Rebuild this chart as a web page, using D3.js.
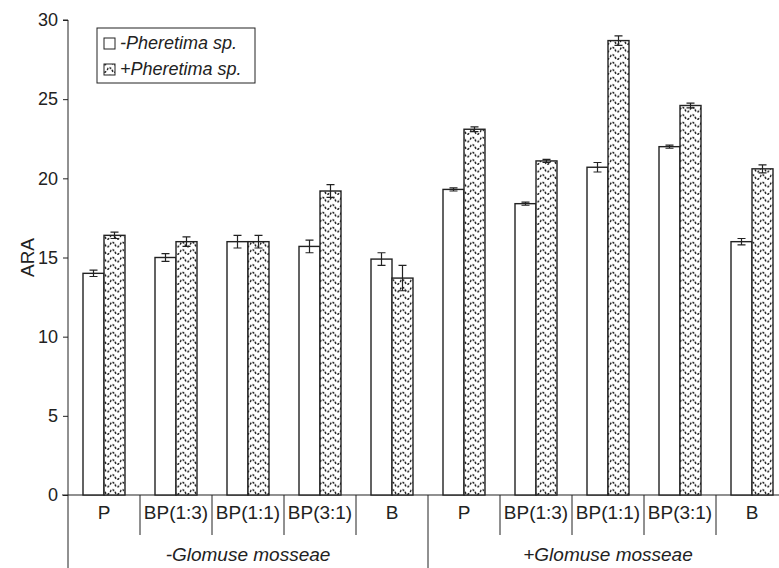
<!DOCTYPE html>
<html>
<head>
<meta charset="utf-8">
<script src="https://cdnjs.cloudflare.com/ajax/libs/d3/7.8.5/d3.min.js"></script>
<style>
body { margin: 0; background: #fff; }
svg { font-family: "Liberation Sans", Arial, sans-serif; }
.tick text { font-size: 18px; fill: #222; font-family: "Liberation Sans", Arial, sans-serif; }
.lab { font-size: 19px; fill: #222; text-anchor: middle; }
.grp { font-size: 19px; fill: #222; text-anchor: middle; font-style: italic; }
</style>
</head>
<body>
<svg width="779" height="568"></svg>
<script>
var groups = ["-Glomuse mosseae", "+Glomuse mosseae"];
var treatments = ["P", "BP(1:3)", "BP(1:1)", "BP(3:1)", "B"];
var seriesNames = ["-Pheretima sp.", "+Pheretima sp."];
// values, -G then +G, treatments in order
var minusWorm = [14.0, 15.0, 16.0, 15.7, 14.9, 19.3, 18.4, 20.7, 22.0, 16.0];
var minusWormErr = [0.2, 0.25, 0.4, 0.4, 0.4, 0.1, 0.1, 0.3, 0.1, 0.2];
var plusWorm = [16.4, 16.0, 16.0, 19.2, 13.7, 23.1, 21.1, 28.7, 24.6, 20.6];
var plusWormErr = [0.2, 0.3, 0.4, 0.4, 0.8, 0.15, 0.1, 0.3, 0.15, 0.25];
var yTicks = [0, 5, 10, 15, 20, 25, 30];

var svg = d3.select("svg");
var pLeft = 68, pRight = 788, pTop = 20, pBottom = 495;

var cats = [];
groups.forEach(function (g, gi) {
  treatments.forEach(function (t, ti) { cats.push(gi * 5 + ti); });
});

var x = d3.scaleBand().domain(cats).range([pLeft, pRight]);
var y = d3.scaleLinear().domain([0, 30]).range([pBottom, pTop]);
var barW = 21;

// wavy fill pattern
var defs = svg.append("defs");
var pat = defs.append("pattern")
  .attr("id", "wave")
  .attr("patternUnits", "userSpaceOnUse")
  .attr("width", 10).attr("height", 7.5);
pat.append("rect").attr("width", 10).attr("height", 7.5).attr("fill", "#fff");
pat.append("path")
  .attr("d", "M0,4.5 Q2.5,0 5,4.5 T10,4.5")
  .attr("fill", "none")
  .attr("stroke", "#111")
  .attr("stroke-width", 1.4)
  .attr("stroke-dasharray", "2.2,1.2");

// y axis
var ya = svg.append("g")
  .attr("transform", "translate(" + pLeft + ",0)")
  .call(d3.axisLeft(y).tickValues(yTicks).tickSize(5).tickPadding(5));
ya.select(".domain").attr("stroke", "#222").attr("d", "M-5," + pTop + "H0V" + 568);
ya.selectAll(".tick line").attr("stroke", "#222");

svg.append("text")
  .attr("class", "lab")
  .attr("font-size", 18)
  .attr("transform", "translate(34," + y(15) + ") rotate(-90)")
  .text("ARA");

// x axis baseline
svg.append("line")
  .attr("x1", pLeft - 6).attr("x2", pRight)
  .attr("y1", pBottom).attr("y2", pBottom)
  .attr("stroke", "#222").attr("stroke-width", 1.2);

// category separators
cats.forEach(function (c) {
  if (c === 0) return;
  svg.append("line")
    .attr("x1", x(c)).attr("x2", x(c))
    .attr("y1", pBottom).attr("y2", c === 5 ? 568 : 535)
    .attr("stroke", "#222").attr("stroke-width", 1);
});

// category labels
svg.selectAll(".catlab").data(cats).enter().append("text")
  .attr("class", "lab")
  .attr("x", function (c) { return x(c) + x.bandwidth() / 2; })
  .attr("y", 519)
  .text(function (c) { return treatments[c % 5]; });

// group labels
svg.selectAll(".grplab").data(groups).enter().append("text")
  .attr("class", "grp")
  .attr("x", function (g, i) { return x(i * 5) + x.bandwidth() * 2.5; })
  .attr("y", 561)
  .text(function (g) { return g; });

// bars + error bars
function drawSeries(vals, errs, off, fill) {
  var gs = svg.append("g");
  gs.selectAll("rect").data(vals).enter().append("rect")
    .attr("x", function (d, i) { return x(cats[i]) + x.bandwidth() / 2 + off; })
    .attr("y", function (d) { return y(d); })
    .attr("width", barW)
    .attr("height", function (d) { return pBottom - y(d); })
    .attr("fill", fill)
    .attr("stroke", "#222").attr("stroke-width", 1.4);
  vals.forEach(function (d, i) {
    var cx = x(cats[i]) + x.bandwidth() / 2 + off + barW / 2;
    var y1 = y(d + errs[i]), y2 = y(d - errs[i]);
    gs.append("path")
      .attr("d", "M" + (cx - 4) + "," + y1 + "H" + (cx + 4) + "M" + cx + "," + y1 + "V" + y2 + "M" + (cx - 4) + "," + y2 + "H" + (cx + 4))
      .attr("stroke", "#222").attr("stroke-width", 1.2).attr("fill", "none");
  });
}
drawSeries(minusWorm, minusWormErr, -barW, "#fff");
drawSeries(plusWorm, plusWormErr, 0, "url(#wave)");

// legend
var lg = svg.append("g").attr("transform", "translate(97,28)");
lg.append("rect").attr("width", 158).attr("height", 55)
  .attr("fill", "#fff").attr("stroke", "#222").attr("stroke-width", 1);
seriesNames.forEach(function (s, i) {
  lg.append("rect")
    .attr("x", 7).attr("y", 10 + i * 26)
    .attr("width", 11).attr("height", 11)
    .attr("fill", i === 0 ? "#fff" : "url(#wave)")
    .attr("stroke", "#222").attr("stroke-width", 1);
  lg.append("text")
    .attr("x", 23).attr("y", 21 + i * 26)
    .attr("font-size", 18).attr("font-style", "italic").attr("fill", "#222")
    .text(s);
});
</script>
</body>
</html>
